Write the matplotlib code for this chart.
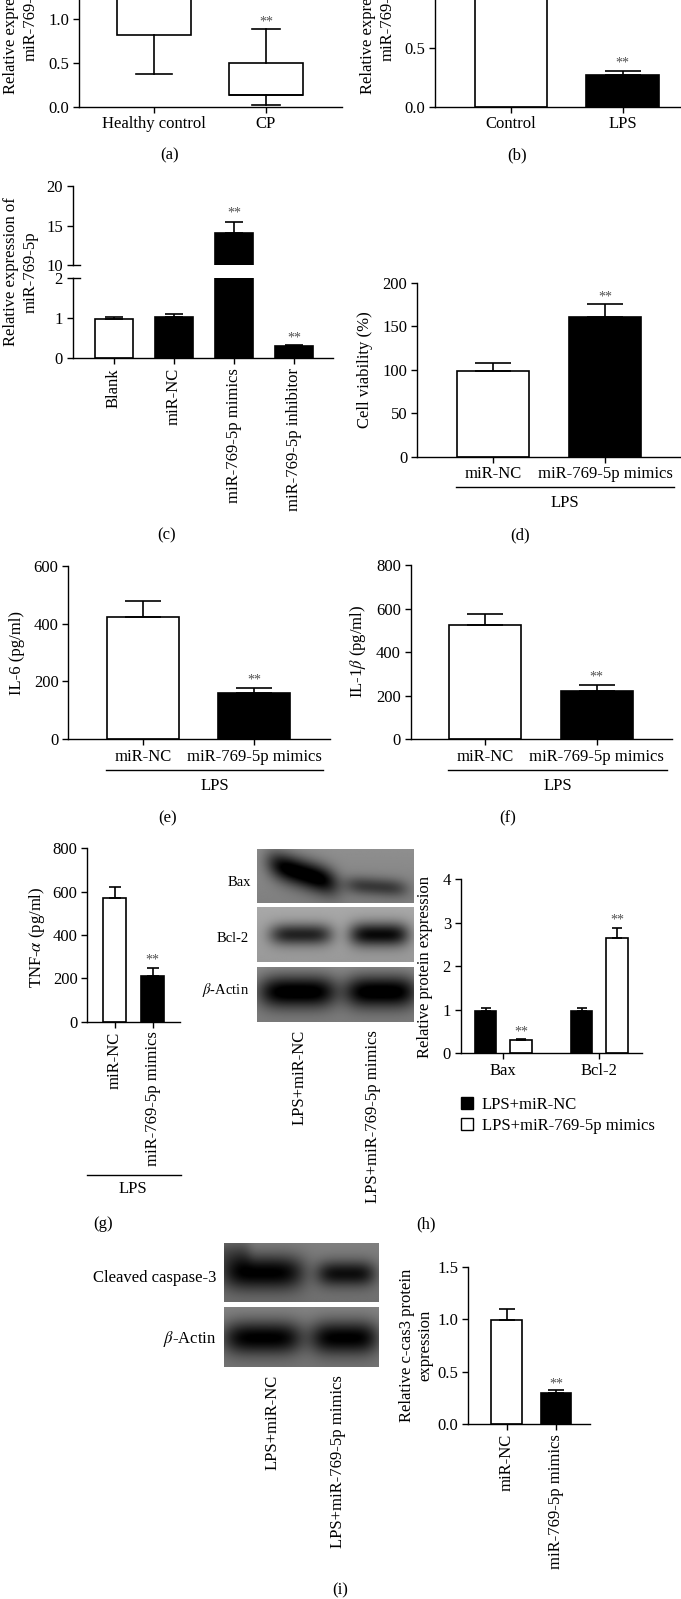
import numpy as np
import matplotlib
matplotlib.use('Agg')
import matplotlib.pyplot as plt
from matplotlib.lines import Line2D
from matplotlib.patches import Patch

plt.rcParams['font.family'] = ['Liberation Serif', 'DejaVu Serif']
plt.rcParams['mathtext.fontset'] = 'stix'
plt.rcParams['font.size'] = 12

# ---------------- data ----------------
a_groups = ['Healthy control', 'CP']
a_whislo = [0.37, 0.02]
a_q1 = [0.82, 0.13]
a_med = [1.30, 0.13]
a_q3 = [1.60, 0.50]
a_whishi = [1.95, 0.88]

b_groups = ['Control', 'LPS']
b_vals = [1.0, 0.27]
b_err = [0.08, 0.04]

c_groups = ['Blank', 'miR-NC', 'miR-769-5p mimics', 'miR-769-5p inhibitor']
c_vals = [0.97, 1.02, 14.0, 0.30]
c_err = [0.06, 0.08, 1.5, 0.03]

d_groups = ['miR-NC', 'miR-769-5p mimics']
d_vals = [98, 161]
d_err = [10, 14]

e_vals = [424, 158]
e_err = [53, 20]

f_vals = [523, 221]
f_err = [53, 29]

g_vals = [571, 212]
g_err = [52, 34]

h_proteins = ['Bax', 'Bcl-2']
h_series = ['LPS+miR-NC', 'LPS+miR-769-5p mimics']
h_nc = [0.98, 0.98]
h_nc_err = [0.07, 0.07]
h_mim = [0.30, 2.65]
h_mim_err = [0.02, 0.24]

i_vals = [0.99, 0.30]
i_err = [0.11, 0.03]

blot_lanes = ['LPS+miR-NC', 'LPS+miR-769-5p mimics']

# ---------------- layout helpers ----------------
W, H = 681, 1599
DPI = 100
fig = plt.figure(figsize=(W / DPI, H / DPI), dpi=DPI)
STAR = dict(ha='center', va='bottom', fontsize=10, color='#505050')


def add_ax(left, top, right, bottom):
    return fig.add_axes([left / W, 1 - bottom / H, (right - left) / W, (bottom - top) / H])


def style(ax, bottom=True):
    for s in ['top', 'right']:
        ax.spines[s].set_visible(False)
    for s in ['left', 'bottom']:
        ax.spines[s].set_linewidth(1.0)
    if not bottom:
        ax.spines['bottom'].set_visible(False)
    ax.tick_params(direction='out', length=4, width=1.0, labelsize=12, pad=3)
    ax.set_facecolor('none')


def set_x(ax, L, R, c0, s):
    ax.set_xlim((L - c0) / s, (R - c0) / s)


def ftext(x, y, s, **kw):
    fig.text(x / W, 1 - y / H, s, **kw)


def fline(x0, x1, y, lw=1.0):
    fig.add_artist(Line2D([x0 / W, x1 / W], [1 - y / H, 1 - y / H],
                          transform=fig.transFigure, color='black', lw=lw))


def bars(ax, x, vals, errs, width, colors, s_px):
    ax.bar(x, vals, width, color=colors, edgecolor='black', linewidth=1.2, zorder=2)
    cap = width * s_px / 4 * 72 / DPI
    ax.errorbar(x, vals, yerr=[np.zeros(len(vals)), errs], fmt='none', ecolor='black',
                elinewidth=1.2, capsize=cap, capthick=1.2, zorder=3)


def blot(left, top, right, bottom, bg, bands):
    ax = add_ax(left, top, right, bottom)
    nx, ny = 240, 90
    X, Y = np.meshgrid(np.linspace(0, 1, nx), np.linspace(0, 1, ny))
    img = np.full((ny, nx), bg, dtype=float)
    img -= 0.06 * Y  # slight vertical shading
    for cx, cy, sx, sy, amp, tilt in bands:
        yc = cy + tilt * (X - cx)
        img -= amp * np.exp(-np.abs((X - cx) / sx) ** 4 - ((Y - yc) / sy) ** 2)
    ax.imshow(np.clip(img, 0, 1), cmap='gray', vmin=0, vmax=1, extent=[0, 1, 1, 0],
              aspect='auto', interpolation='bilinear')
    ax.axis('off')
    return ax


YLAB = 'Relative expression of\nmiR-769-5p'

# ---------------- (a) box plot ----------------
ax = add_ax(79, 106.7 - 2.0 * 88, 342, 106.7)
style(ax)
stats = [dict(label=g, whislo=lo, q1=q1, med=m, q3=q3, whishi=hi, fliers=[])
         for g, lo, q1, m, q3, hi in zip(a_groups, a_whislo, a_q1, a_med, a_q3, a_whishi)]
ax.bxp(stats, positions=[0, 1], widths=0.66, capwidths=[0.33, 0.25], showfliers=False,
       patch_artist=True,
       boxprops=dict(facecolor='white', edgecolor='black', linewidth=1.2),
       whiskerprops=dict(color='black', linewidth=1.2),
       capprops=dict(color='black', linewidth=1.2),
       medianprops=dict(color='black', linewidth=1.2))
set_x(ax, 79, 342, 154, 112)
ax.set_ylim(0, 2.0)
ax.set_yticks([0, 0.5, 1.0, 1.5, 2.0])
ax.set_yticklabels(['0.0', '0.5', '1.0', '1.5', '2.0'])
ax.set_xticks([0, 1])
ax.set_xticklabels(a_groups)
ax.text(1, a_whishi[1] + 0.01, '**', **STAR)
ftext(21, 20, YLAB, rotation=90, ha='center', va='center', fontsize=12, linespacing=1.25)
ftext(170, 155, '(a)', ha='center', va='center', fontsize=12)

# ---------------- (b) ----------------
ax = add_ax(435, 106.7 - 1.5 * 116.7, 680, 106.7)
style(ax)
bars(ax, np.arange(2), b_vals, b_err, 0.65, ['white', 'black'], 111.5)
set_x(ax, 435, 680, 511, 111.5)
ax.set_ylim(0, 1.5)
ax.set_yticks([0, 0.5, 1.0, 1.5])
ax.set_yticklabels(['0.0', '0.5', '1.0', '1.5'])
ax.set_xticks([0, 1])
ax.set_xticklabels(b_groups)
ax.text(1, b_vals[1] + b_err[1] + 0.01, '**', **STAR)
ftext(378, 20, YLAB, rotation=90, ha='center', va='center', fontsize=12, linespacing=1.25)
ftext(517, 155, '(b)', ha='center', va='center', fontsize=12)

# ---------------- (c) broken axis ----------------
c_cols = ['white', 'black', 'black', 'black']
axt = add_ax(72.7, 186, 333, 265)
style(axt, bottom=False)
axb = add_ax(72.7, 278.3, 333, 358.3)
style(axb)
xc = np.arange(4)
for axx in (axt, axb):
    axx.bar(xc, c_vals, 0.62, color=c_cols, edgecolor='black', linewidth=1.2, zorder=2)
    set_x(axx, 72.7, 333, 114, 60)
cap = 0.62 * 60 / 4 * 72 / DPI
axt.errorbar(xc, c_vals, yerr=[np.zeros(4), c_err], fmt='none', ecolor='black',
             elinewidth=1.2, capsize=cap, capthick=1.2, zorder=3)
axb.errorbar(xc, c_vals, yerr=[np.zeros(4), c_err], fmt='none', ecolor='black',
             elinewidth=1.2, capsize=cap, capthick=1.2, zorder=3)
axt.set_ylim(10, 20)
axt.set_yticks([10, 15, 20])
axt.set_xticks([])
axb.set_ylim(0, 2)
axb.set_yticks([0, 1, 2])
axb.set_xticks(xc)
axb.set_xticklabels(c_groups, rotation=90)
axt.text(2, c_vals[2] + c_err[2] + 0.2, '**', **STAR)
axb.text(3, c_vals[3] + c_err[3] + 0.02, '**', **STAR)
fline(72.7, 79.5, 265)
fline(72.7, 79.5, 278.3)
ftext(21, 272, YLAB, rotation=90, ha='center', va='center', fontsize=12, linespacing=1.25)
ftext(167, 535, '(c)', ha='center', va='center', fontsize=12)

# ---------------- (d) ----------------
ax = add_ax(417, 282.7, 680, 456.7)
style(ax)
bars(ax, np.arange(2), d_vals, d_err, 0.65, ['white', 'black'], 112)
set_x(ax, 417, 680, 493, 112)
ax.set_ylim(0, 200)
ax.set_yticks([0, 50, 100, 150, 200])
ax.set_xticks([0, 1])
ax.set_xticklabels(d_groups)
ax.text(1, d_vals[1] + d_err[1] + 1, '**', **STAR)
ftext(365, 370, 'Cell viability (%)', rotation=90, ha='center', va='center', fontsize=12)
fline(455.6, 674, 487.3)
ftext(565, 503.3, 'LPS', ha='center', va='center', fontsize=12)
ftext(520, 535, '(d)', ha='center', va='center', fontsize=12)

# ---------------- (e) ----------------
ax = add_ax(68.3, 566, 330, 739)
style(ax)
bars(ax, np.arange(2), e_vals, e_err, 0.65, ['white', 'black'], 111.3)
set_x(ax, 68.3, 330, 143, 111.3)
ax.set_ylim(0, 600)
ax.set_yticks([0, 200, 400, 600])
ax.set_xticks([0, 1])
ax.set_xticklabels(d_groups)
ax.text(1, e_vals[1] + e_err[1] + 3, '**', **STAR)
ftext(16.7, 653, 'IL-6 (pg/ml)', rotation=90, ha='center', va='center', fontsize=12)
fline(106, 323, 770)
ftext(214.5, 786, 'LPS', ha='center', va='center', fontsize=12)
ftext(168, 818, '(e)', ha='center', va='center', fontsize=12)

# ---------------- (f) ----------------
ax = add_ax(410.7, 565, 671.7, 739)
style(ax)
bars(ax, np.arange(2), f_vals, f_err, 0.645, ['white', 'black'], 111.7)
set_x(ax, 410.7, 671.7, 485, 111.7)
ax.set_ylim(0, 800)
ax.set_yticks([0, 200, 400, 600, 800])
ax.set_xticks([0, 1])
ax.set_xticklabels(d_groups)
ax.text(1, f_vals[1] + f_err[1] + 4, '**', **STAR)
ftext(358.3, 651, r'IL-1$\beta$ (pg/ml)', rotation=90, ha='center', va='center', fontsize=12)
fline(448, 667, 770)
ftext(557.5, 786, 'LPS', ha='center', va='center', fontsize=12)
ftext(508, 818, '(f)', ha='center', va='center', fontsize=12)

# ---------------- (g) ----------------
ax = add_ax(87.3, 848.4, 180, 1021.7)
style(ax)
bars(ax, np.arange(2), g_vals, g_err, 0.6, ['white', 'black'], 38)
set_x(ax, 87.3, 180, 114.7, 38)
ax.set_ylim(0, 800)
ax.set_yticks([0, 200, 400, 600, 800])
ax.set_xticks([0, 1])
ax.set_xticklabels(d_groups, rotation=90)
ax.text(1, g_vals[1] + g_err[1] + 8, '**', **STAR)
ftext(36.7, 937, r'TNF-$\alpha$ (pg/ml)', rotation=90, ha='center', va='center', fontsize=12)
fline(87, 181, 1175)
ftext(133, 1189.3, 'LPS', ha='center', va='center', fontsize=12)
ftext(103, 1224, '(g)', ha='center', va='center', fontsize=12)

# ---------------- (h) western blot ----------------
blot(257, 849, 413, 903, 0.56, [(0.29, 0.45, 0.22, 0.27, 0.62, 0.9),
                                 (0.76, 0.70, 0.20, 0.17, 0.30, 0.2)])
blot(257, 907, 413, 962, 0.66, [(0.28, 0.50, 0.20, 0.20, 0.50, 0.0),
                                 (0.78, 0.50, 0.19, 0.22, 0.60, 0.0)])
blot(257, 967, 413, 1022, 0.55, [(0.26, 0.45, 0.25, 0.30, 0.58, 0.0),
                                  (0.79, 0.45, 0.23, 0.30, 0.58, 0.0)])
ftext(251, 883, 'Bax', ha='right', va='center', fontsize=10.5)
ftext(249, 939, 'Bcl-2', ha='right', va='center', fontsize=10.5)
ftext(249, 990, r'$\beta$-Actin', ha='right', va='center', fontsize=10.5)
ftext(300, 1030, blot_lanes[0], rotation=90, ha='center', va='top', fontsize=12)
ftext(373, 1030, blot_lanes[1], rotation=90, ha='center', va='top', fontsize=12)

# ---------------- (h) bar chart ----------------
ax = add_ax(460.7, 879.3, 641.7, 1053.3)
style(ax)
xh = np.arange(2)
off = 17.8 / 96
bw = 21.7 / 96
cap = bw * 96 / 4 * 72 / DPI
ax.bar(xh - off, h_nc, bw, color='black', edgecolor='black', linewidth=1.2, zorder=2,
       label=h_series[0])
ax.bar(xh + off, h_mim, bw, color='white', edgecolor='black', linewidth=1.2, zorder=2,
       label=h_series[1])
ax.errorbar(xh - off, h_nc, yerr=[np.zeros(2), h_nc_err], fmt='none', ecolor='black',
            elinewidth=1.2, capsize=cap, capthick=1.2, zorder=3)
ax.errorbar(xh + off, h_mim, yerr=[np.zeros(2), h_mim_err], fmt='none', ecolor='black',
            elinewidth=1.2, capsize=cap, capthick=1.2, zorder=3)
set_x(ax, 460.7, 641.7, 503.3, 96)
ax.set_ylim(0, 4)
ax.set_yticks([0, 1, 2, 3, 4])
ax.set_xticks(xh)
ax.set_xticklabels(h_proteins)
for k in range(2):
    ax.text(xh[k] + off, h_mim[k] + h_mim_err[k] + 0.03, '**', **STAR)
ftext(425, 967, 'Relative protein expression', rotation=90, ha='center', va='center', fontsize=12)
handles = [Patch(facecolor='black', edgecolor='black', linewidth=1.0),
           Patch(facecolor='white', edgecolor='black', linewidth=1.0)]
fig.legend(handles, h_series, loc='upper left', bbox_to_anchor=(461 / W, 1 - 1097 / H),
           frameon=False, handlelength=0.7, handleheight=0.7, handletextpad=0.55,
           labelspacing=0.3, borderpad=0, borderaxespad=0, fontsize=12)
ftext(426, 1224, '(h)', ha='center', va='center', fontsize=12)

# ---------------- (i) western blot ----------------
blot(224, 1243, 379, 1302, 0.50, [(0.25, 0.50, 0.27, 0.30, 0.48, 0.0),
                                   (0.05, 0.15, 0.12, 0.25, 0.15, 0.0),
                                   (0.79, 0.52, 0.19, 0.22, 0.42, 0.0)])
blot(224, 1307, 379, 1367, 0.52, [(0.25, 0.52, 0.26, 0.28, 0.50, 0.0),
                                   (0.78, 0.52, 0.22, 0.28, 0.50, 0.0)])
ftext(216, 1278, 'Cleaved caspase-3', ha='right', va='center', fontsize=12)
ftext(216, 1339, r'$\beta$-Actin', ha='right', va='center', fontsize=12)
ftext(273, 1375, blot_lanes[0], rotation=90, ha='center', va='top', fontsize=12)
ftext(338, 1375, blot_lanes[1], rotation=90, ha='center', va='top', fontsize=12)

# ---------------- (i) bar chart ----------------
ax = add_ax(468, 1266.7, 589.5, 1424.3)
style(ax)
bars(ax, np.arange(2), i_vals, i_err, 0.62, ['white', 'black'], 49.5)
set_x(ax, 468, 589.5, 506.5, 49.5)
ax.set_ylim(0, 1.5)
ax.set_yticks([0, 0.5, 1.0, 1.5])
ax.set_yticklabels(['0.0', '0.5', '1.0', '1.5'])
ax.set_xticks([0, 1])
ax.set_xticklabels(d_groups, rotation=90)
ax.text(1, i_vals[1] + i_err[1] - 0.01, '**', **STAR)
ftext(416, 1345, 'Relative c-cas3 protein\nexpression', rotation=90, ha='center',
      va='center', fontsize=12, linespacing=1.15)
ftext(340, 1590, '(i)', ha='center', va='center', fontsize=12)

fig.savefig('out.png', dpi=DPI)
